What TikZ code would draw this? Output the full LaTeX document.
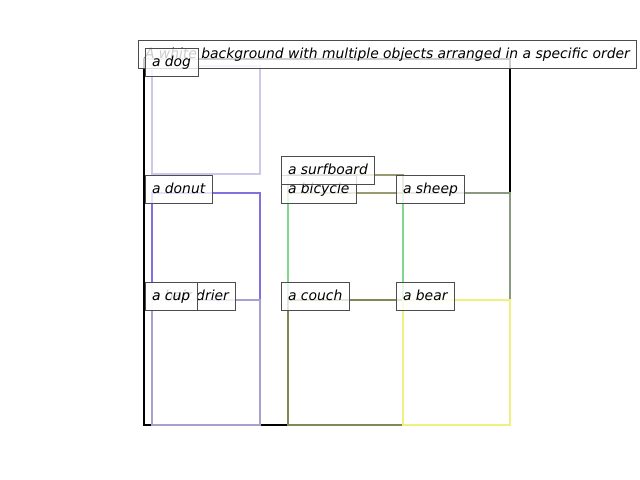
\documentclass[tikz,border=0pt]{standalone}
\usepackage{fontspec}
\setmainfont{DejaVu Sans}
\definecolor{cdog}{HTML}{CCC8EC}
\definecolor{cdonut}{HTML}{8070E0}
\definecolor{cdrier}{HTML}{A8A0D0}
\definecolor{cgreen}{HTML}{80D890}
\definecolor{ccouch}{HTML}{808858}
\definecolor{csheep}{HTML}{8A9A80}
\definecolor{cbear}{HTML}{F0F080}
\definecolor{csurf}{HTML}{9A9A70}
\begin{document}
\begin{tikzpicture}[x=0.72pt,y=-0.72pt,
  objbox/.style={line width=1.6pt},
  lbl/.style={anchor=text,draw=black!70,fill=white,fill opacity=0.8,text opacity=1,
    inner xsep=5pt,inner ysep=5pt,text height=7.7pt,text depth=2.5pt,
    font=\itshape\fontsize{10pt}{12pt}\selectfont,line width=0.7pt}]
\useasboundingbox (0,0) rectangle (640,480);
\draw[line width=1.9pt,black] (144,59) rectangle (510,425);
\draw[objbox,cdog] (152,66) rectangle (260,174);
\draw[objbox,cdonut] (152,193) rectangle (260,300);
\draw[objbox,csheep] (403,193) rectangle (510,300);
\draw[objbox,cgreen] (288,193) rectangle (403,300);
\draw[objbox,csurf] (288,175) rectangle (403,193);
\draw[objbox,cdrier] (152,300) rectangle (260,425);
\draw[objbox,ccouch] (288,300) rectangle (403,425);
\draw[objbox,cbear] (403,300) rectangle (510,425);
\node[lbl] (title) at (145,58) {A white background with multiple objects arranged in a specific order};
\node[lbl] (dog) at (152,66) {a dog};
\node[lbl] (donut) at (152,193) {a donut};
\node[lbl] (bicycle) at (288,193) {a bicycle};
\node[lbl] (surf) at (288,174.5) {a surfboard};
\node[lbl] (sheep) at (403,193) {a sheep};
\node[lbl] (drier) at (152,300) {a hair drier};
\node[lbl] (cup) at (152,300) {a cup};
\node[lbl] (couch) at (288,300) {a couch};
\node[lbl] (bear) at (403,300) {a bear};
\end{tikzpicture}
\end{document}
